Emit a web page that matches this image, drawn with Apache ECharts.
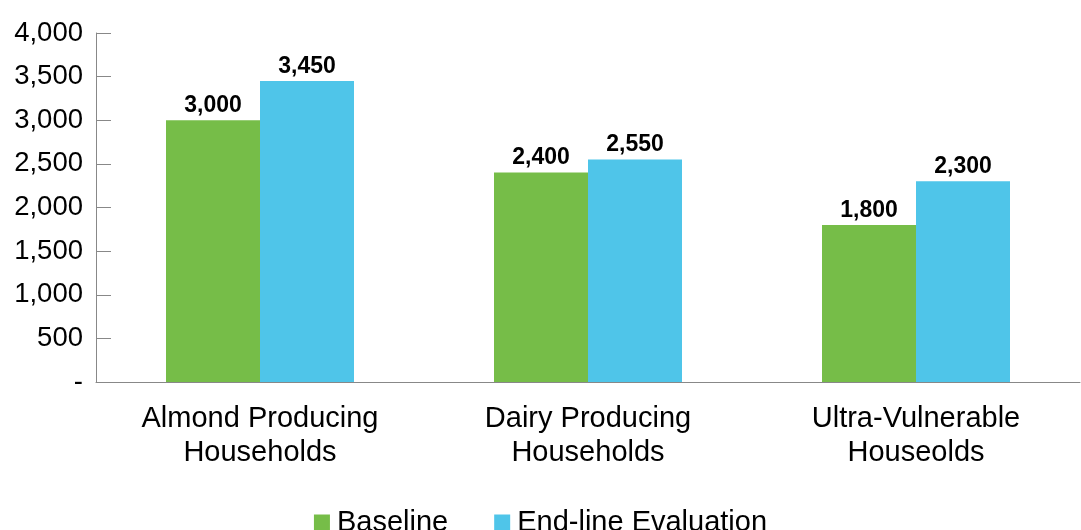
<!DOCTYPE html>
<html>
<head>
<meta charset="utf-8">
<script src="https://cdn.jsdelivr.net/npm/echarts@6/dist/echarts.min.js"></script>
<style>
  html, body { margin: 0; padding: 0; background: #fff; }
  #chart { width: 1081px; height: 530px; }
</style>
</head>
<body>
<div id="chart"></div>
<script>
// Household groups on the x axis
const categories = ['Almond Producing\nHouseholds', 'Dairy Producing\nHouseholds', 'Ultra-Vulnerable\nHouseolds'];
// Values for each survey round
const baseline = [3000, 2400, 1800];
const endline = [3450, 2550, 2300];
const seriesNames = ['Baseline', 'End-line Evaluation'];

const fmt = v => v === 0 ? '-' : v.toLocaleString('en-US');
const font = 'Liberation Sans, Arial, sans-serif';

const chart = echarts.init(document.getElementById('chart'));
chart.setOption({
  animation: false,
  textStyle: { fontFamily: font },
  grid: { left: 96, right: 1, top: 33, bottom: 148, containLabel: false },
  legend: {
    data: seriesNames,
    bottom: -12,
    left: 'center',
    itemWidth: 16,
    itemHeight: 16,
    itemGap: 46,
    icon: 'rect',
    textStyle: { fontSize: 29, color: '#000', fontFamily: font, padding: [0, 0, 0, 2] }
  },
  xAxis: {
    type: 'category',
    data: categories,
    axisLine: { lineStyle: { color: '#888', width: 1 } },
    axisTick: { show: false },
    axisLabel: { color: '#000', fontSize: 29, lineHeight: 34, margin: 20, interval: 0 }
  },
  yAxis: {
    type: 'value',
    min: 0,
    max: 4000,
    interval: 500,
    splitLine: { show: false },
    axisLine: { show: true, lineStyle: { color: '#888', width: 1 } },
    axisTick: { show: true, inside: true, length: 15, lineStyle: { color: '#888' } },
    axisLabel: { color: '#000', fontSize: 27.5, margin: 13, formatter: fmt }
  },
  series: [
    {
      name: seriesNames[0],
      type: 'bar',
      data: baseline,
      barWidth: 94,
      barGap: '0%',
      itemStyle: { color: '#76BD48' },
      label: { show: true, position: 'top', distance: 3, fontSize: 23, fontWeight: 'bold', color: '#000', formatter: p => fmt(p.value) }
    },
    {
      name: seriesNames[1],
      type: 'bar',
      data: endline,
      barWidth: 94,
      barGap: '0%',
      itemStyle: { color: '#4FC5E9' },
      label: { show: true, position: 'top', distance: 3, fontSize: 23, fontWeight: 'bold', color: '#000', formatter: p => fmt(p.value) }
    }
  ]
});
</script>
</body>
</html>
